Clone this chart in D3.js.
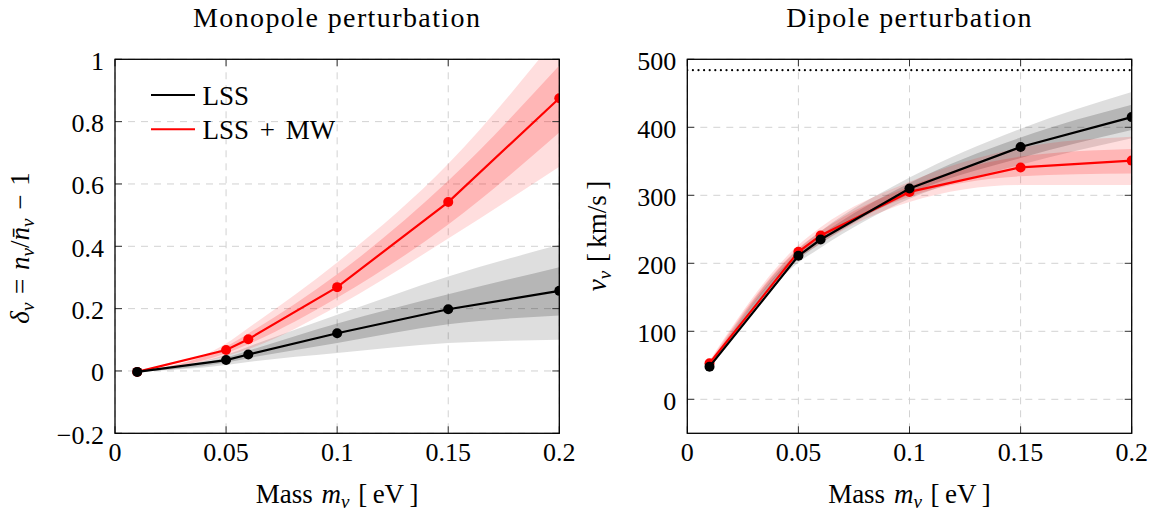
<!DOCTYPE html>
<html><head><meta charset="utf-8">
<script src="https://cdn.jsdelivr.net/npm/d3@7"></script>
<style>
html,body{margin:0;padding:0;background:#fff;}
</style></head>
<body>
<svg id="chart" width="1157" height="511" font-family="'Liberation Serif', serif"></svg>
<script>
// ---------- data ----------
const masses = [0.01, 0.05, 0.06, 0.1, 0.15, 0.2];
const xTicks = [0, 0.05, 0.1, 0.15, 0.2];
const xTickLabels = ["0", "0.05", "0.1", "0.15", "0.2"];
const monoTicks = [-0.2, 0, 0.2, 0.4, 0.6, 0.8, 1];
const monoTickLabels = ["\u22120.2", "0", "0.2", "0.4", "0.6", "0.8", "1"];
const dipTicks = [0, 100, 200, 300, 400, 500];
const dipTickLabels = ["0", "100", "200", "300", "400", "500"];

// Monopole: LSS
const lssMono    = [-0.003, 0.035, 0.053, 0.121, 0.198, 0.257];
const lssMono1Lo = [-0.003, 0.027, 0.041, 0.090, 0.150, 0.178];
const lssMono1Hi = [-0.003, 0.043, 0.065, 0.152, 0.246, 0.333];
const lssMono2Lo = [-0.003, 0.019, 0.029, 0.058, 0.090, 0.100];
const lssMono2Hi = [-0.003, 0.052, 0.078, 0.180, 0.303, 0.405];
// Monopole: LSS + MW
const mwMono    = [-0.003, 0.067, 0.102, 0.269, 0.542, 0.875];
const mwMono1Lo = [-0.003, 0.057, 0.086, 0.235, 0.470, 0.765];
const mwMono1Hi = [-0.003, 0.078, 0.120, 0.310, 0.610, 0.980];
const mwMono2Lo = [-0.003, 0.048, 0.070, 0.208, 0.425, 0.655];
const mwMono2Hi = [-0.003, 0.088, 0.138, 0.348, 0.665, 1.080];
// Dipole: LSS
const lssDip    = [48, 211, 235, 310, 371, 415];
const lssDip1Lo = [46, 206, 229, 302, 355, 396];
const lssDip1Hi = [50, 216, 241, 318, 385, 433];
const lssDip2Lo = [44, 201, 223, 295, 345, 384];
const lssDip2Hi = [52, 221, 247, 326, 398, 452];
// Dipole: LSS + MW
const mwDip    = [53, 217, 241, 305, 341, 351];
const mwDip1Lo = [51, 212, 235, 298, 328, 332];
const mwDip1Hi = [55, 222, 247, 313, 357, 368];
const mwDip2Lo = [49, 207, 229, 290, 315, 315];
const mwDip2Hi = [57, 227, 253, 320, 370, 386];
const escapeVelocity = 484;

const seriesNames = ["LSS", "LSS + MW"];
const seriesColors = ["#000000", "#ff0000"];

// ---------- drawing ----------
const svg = d3.select("#chart");
const FS = 26;

function panel(opts) {
  const {x0, x1, y0, y1, yDomain, yTicks, yLabels, bands, lines, id} = opts;
  const x = d3.scaleLinear().domain([0, 0.2]).range([x0, x1]);
  const y = d3.scaleLinear().domain(yDomain).range([y1, y0]);
  const g = svg.append("g");
  g.append("clipPath").attr("id", id).append("rect")
    .attr("x", x0).attr("y", y0).attr("width", x1 - x0).attr("height", y1 - y0);

  // grid
  const grid = g.append("g").attr("stroke", "#d2d2d2").attr("stroke-width", 1).attr("stroke-dasharray", "7,6");
  grid.selectAll("line.v").data(xTicks).join("line")
    .attr("x1", d => x(d)).attr("x2", d => x(d)).attr("y1", y0).attr("y2", y1);
  grid.selectAll("line.h").data(yTicks).join("line")
    .attr("y1", d => y(d)).attr("y2", d => y(d)).attr("x1", x0).attr("x2", x1);

  const plot = g.append("g").attr("clip-path", `url(#${id})`);
  const area = d3.area().x((d, i) => x(masses[i])).y0(d => y(d[0])).y1(d => y(d[1])).curve(d3.curveMonotoneX);
  bands.forEach(b => {
    const d2 = b.lo2.map((v, i) => [v, b.hi2[i]]);
    const d1 = b.lo1.map((v, i) => [v, b.hi1[i]]);
    plot.append("path").attr("d", area(d2)).attr("fill", b.color).attr("fill-opacity", 0.13);
    plot.append("path").attr("d", area(d1)).attr("fill", b.color).attr("fill-opacity", 0.18);
  });
  if (opts.extra) opts.extra(plot, x, y);
  const line = d3.line().x((d, i) => x(masses[i])).y(d => y(d));
  lines.forEach(l => {
    plot.append("path").attr("d", line(l.vals)).attr("fill", "none")
      .attr("stroke", l.color).attr("stroke-width", 2.2);
    plot.selectAll(null).data(l.vals).join("circle")
      .attr("cx", (d, i) => x(masses[i])).attr("cy", d => y(d)).attr("r", 5).attr("fill", l.color);
  });

  // ticks (inside, all four sides)
  const tk = g.append("g").attr("stroke", "#333").attr("stroke-width", 1);
  xTicks.forEach(t => {
    tk.append("line").attr("x1", x(t)).attr("x2", x(t)).attr("y1", y1).attr("y2", y1 - 7);
    tk.append("line").attr("x1", x(t)).attr("x2", x(t)).attr("y1", y0).attr("y2", y0 + 7);
  });
  yTicks.forEach(t => {
    tk.append("line").attr("y1", y(t)).attr("y2", y(t)).attr("x1", x0).attr("x2", x0 + 7);
    tk.append("line").attr("y1", y(t)).attr("y2", y(t)).attr("x1", x1).attr("x2", x1 - 7);
  });
  // frame
  g.append("rect").attr("x", x0).attr("y", y0).attr("width", x1 - x0).attr("height", y1 - y0)
    .attr("fill", "none").attr("stroke", "#000").attr("stroke-width", 1.3);

  // tick labels
  g.selectAll(null).data(xTicks).join("text")
    .attr("x", d => x(d)).attr("y", y1 + 28).attr("text-anchor", "middle")
    .attr("font-size", FS).text((d, i) => xTickLabels[i]);
  g.selectAll(null).data(yTicks).join("text")
    .attr("x", x0 - 11).attr("y", d => y(d) + 10.5).attr("text-anchor", "end")
    .attr("font-size", FS).text((d, i) => yLabels[i]);

  // title
  g.append("text").attr("x", (x0 + x1) / 2).attr("y", 27).attr("text-anchor", "middle")
    .attr("font-size", 28).attr("letter-spacing", 1.4).text(opts.title);

  // x label
  const xl = g.append("text").attr("x", (x0 + x1) / 2).attr("y", 503).attr("text-anchor", "middle")
    .attr("font-size", 27).attr("word-spacing", 2);
  xl.append("tspan").text("Mass ");
  xl.append("tspan").attr("font-style", "italic").text("m");
  xl.append("tspan").attr("font-style", "italic").attr("font-size", 19).attr("dy", 5).text("\u03BD");
  xl.append("tspan").attr("dy", -5).text(" [\u2009eV\u2009]");
  return {x, y, g};
}

// left panel
const left = panel({
  id: "clipL", x0: 115, x1: 559.3, y0: 59.3, y1: 433.3,
  yDomain: [-0.2, 1], yTicks: monoTicks, yLabels: monoTickLabels,
  title: "Monopole perturbation",
  bands: [
    {color: seriesColors[0], lo1: lssMono1Lo, hi1: lssMono1Hi, lo2: lssMono2Lo, hi2: lssMono2Hi},
    {color: seriesColors[1], lo1: mwMono1Lo, hi1: mwMono1Hi, lo2: mwMono2Lo, hi2: mwMono2Hi}
  ],
  lines: [{color: seriesColors[1], vals: mwMono}, {color: seriesColors[0], vals: lssMono}]
});

// right panel
const right = panel({
  id: "clipR", x0: 687.3, x1: 1131.7, y0: 59.3, y1: 433.3,
  yDomain: [-50, 500], yTicks: dipTicks, yLabels: dipTickLabels,
  title: "Dipole perturbation",
  bands: [
    {color: seriesColors[0], lo1: lssDip1Lo, hi1: lssDip1Hi, lo2: lssDip2Lo, hi2: lssDip2Hi},
    {color: seriesColors[1], lo1: mwDip1Lo, hi1: mwDip1Hi, lo2: mwDip2Lo, hi2: mwDip2Hi}
  ],
  lines: [{color: seriesColors[1], vals: mwDip}, {color: seriesColors[0], vals: lssDip}],
  extra: (plot, x, y) => {
    plot.append("line").attr("x1", x(0)).attr("x2", x(0.2))
      .attr("y1", y(escapeVelocity)).attr("y2", y(escapeVelocity))
      .attr("stroke", "#000").attr("stroke-width", 2.2).attr("stroke-linecap", "round")
      .attr("stroke-dasharray", "0,5.6");
  }
});

// y labels
const ylL = svg.append("text").attr("transform", "translate(29,248) rotate(-90)")
  .attr("text-anchor", "middle").attr("font-size", 27).attr("word-spacing", 2);
ylL.append("tspan").attr("font-style", "italic").text("\u03B4");
ylL.append("tspan").attr("font-style", "italic").attr("font-size", 19).attr("dy", 5).text("\u03BD");
ylL.append("tspan").attr("dy", -5).text(" = ");
ylL.append("tspan").attr("font-style", "italic").text("n");
ylL.append("tspan").attr("font-style", "italic").attr("font-size", 19).attr("dy", 5).text("\u03BD");
ylL.append("tspan").attr("dy", -5).text("/");
ylL.append("tspan").attr("font-style", "italic").text("n\u0304");
ylL.append("tspan").attr("font-style", "italic").attr("font-size", 19).attr("dy", 5).text("\u03BD");
ylL.append("tspan").attr("dy", -5).text(" \u2212 1");

const ylR = svg.append("text").attr("transform", "translate(606,236) rotate(-90)")
  .attr("text-anchor", "middle").attr("font-size", 27).attr("word-spacing", 2);
ylR.append("tspan").attr("font-style", "italic").text("v");
ylR.append("tspan").attr("font-style", "italic").attr("font-size", 19).attr("dy", 5).text("\u03BD");
ylR.append("tspan").attr("dy", -5).text(" [\u2009km/s\u2009]");

// legend
const leg = svg.append("g");
seriesNames.forEach((name, i) => {
  const ly = 95 + i * 34.3;
  leg.append("line").attr("x1", 151).attr("x2", 195).attr("y1", ly).attr("y2", ly)
    .attr("stroke", seriesColors[i]).attr("stroke-width", 2);
  leg.append("text").attr("x", 202.5).attr("y", ly + 9.5).attr("font-size", 27)
    .attr("word-spacing", 4).text(name);
});
</script>
</body></html>
